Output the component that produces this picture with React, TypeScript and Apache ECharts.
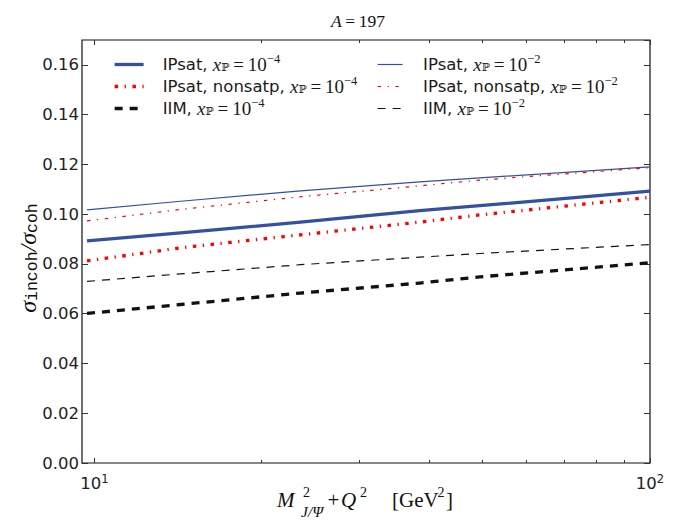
import React, { useEffect, useRef } from 'react';
import * as echarts from 'echarts';

// ---- data ----
const xValues = [9.7, 14.3, 23.5, 38.5, 49.4, 100];
const ipsat4 = [0.0893, 0.0925, 0.0968, 0.1014, 0.1034, 0.1093];
const ipsat2 = [0.1017, 0.1052, 0.1094, 0.113, 0.1146, 0.119];
const nonsat4 = [0.0812, 0.0865, 0.0917, 0.0968, 0.0997, 0.1068];
const nonsat2 = [0.0973, 0.1019, 0.107, 0.1114, 0.1137, 0.1187];
const iim4 = [0.0601, 0.0637, 0.0683, 0.0723, 0.0748, 0.0805];
const iim2 = [0.073, 0.076, 0.0797, 0.0827, 0.0842, 0.0878];

const xMajorTicks = [10, 100];
const xMinorTicks = [20, 30, 40, 50, 60, 70, 80, 90];
const yMin = 0;
const yMax = 0.17;
const yStep = 0.02;
const xMin = 9.5;
const xMax = 100;

const names = ['IPsat4', 'nonsat4', 'iim4', 'IPsat2', 'nonsat2', 'iim2'];
const legendLabels: Record<string, string> = {
  IPsat4: 'IPsat, ',
  nonsat4: 'IPsat, nonsatp, ',
  iim4: 'IIM, ',
  IPsat2: 'IPsat, ',
  nonsat2: 'IPsat, nonsatp, ',
  iim2: 'IIM, ',
};
const legendExp: Record<string, string> = {
  IPsat4: '−4', nonsat4: '−4', iim4: '−4',
  IPsat2: '−2', nonsat2: '−2', iim2: '−2',
};

const BLUE = '#3450a0';
const RED = '#ff0000';
const BLACK = '#111111';
const SERIF = '"Liberation Serif", "DejaVu Serif", serif';
const SANS = '"DejaVu Sans", sans-serif';
const THICK = 3.3;
const THIN = 1.2;
const DASHDOT = [3.5, 6.5, 1.3, 6.5];
const DASHED = [8, 7];

export default function App() {
  const ref = useRef<HTMLDivElement>(null);
  useEffect(() => {
    document.body.style.margin = '0';
    const chart = echarts.init(ref.current!, null, { renderer: 'svg' });
    const mk = (arr: number[]) => xValues.map((x, i) => [x, arr[i]]);
    const seriesDefs = [
      { name: 'IPsat4', data: ipsat4, color: BLUE, width: THICK, type: 'solid' as any },
      { name: 'nonsat4', data: nonsat4, color: RED, width: THICK, type: DASHDOT },
      { name: 'iim4', data: iim4, color: BLACK, width: THICK, type: DASHED },
      { name: 'IPsat2', data: ipsat2, color: BLUE, width: THIN, type: 'solid' as any },
      { name: 'nonsat2', data: nonsat2, color: RED, width: THIN, type: DASHDOT },
      { name: 'iim2', data: iim2, color: BLACK, width: THIN, type: DASHED },
    ];
    const legendRich = {
      pad1: { width: 14 },
      pad2: { width: 15.5 },
      t: { fontFamily: SANS, fontSize: 16.5, color: '#1a1a1a', lineHeight: 20 },
      mi: { fontFamily: SERIF, fontStyle: 'italic', fontSize: 19, color: '#1a1a1a', lineHeight: 20 },
      m: { fontFamily: SERIF, fontSize: 19, color: '#1a1a1a', lineHeight: 20 },
      sb: { fontFamily: '"DejaVu Serif", serif', fontSize: 11, color: '#1a1a1a', lineHeight: 20, padding: [6, 0, 0, 0] },
      sp: { fontFamily: SERIF, fontSize: 12.5, color: '#1a1a1a', lineHeight: 20, padding: [0, 0, 12, 0] },
    };
    const fmt = (pad: string) => (name: string) =>
      `{${pad}|}{t|${legendLabels[name]}}{mi|x}{sb|ℙ}{m|\u2009=\u200910}{sp|${legendExp[name]}}`;
    const legendData = (list: string[]) =>
      list.map((n) => {
        const s = seriesDefs.find((d) => d.name === n)!;
        return { name: n, lineStyle: { width: s.width, color: s.color, type: s.type } };
      });
    const tickColor = '#333';
    const option: any = {
      animation: false,
      grid: {
        left: 82, top: 40, width: 568, height: 423,
        show: true, borderColor: '#111', borderWidth: 1.2, backgroundColor: 'transparent',
      },
      legend: [
        {
          data: legendData(names.slice(0, 3)), orient: 'vertical', left: 113, top: 52, padding: 0,
          itemWidth: 29, itemHeight: 14, itemGap: -3,
          itemStyle: { opacity: 0 },
          formatter: fmt('pad1'), textStyle: { rich: legendRich },
        },
        {
          data: legendData(names.slice(3)), orient: 'vertical', left: 377, top: 52, padding: 0,
          itemWidth: 25, itemHeight: 14, itemGap: -3,
          itemStyle: { opacity: 0 },
          formatter: fmt('pad2'), textStyle: { rich: legendRich },
        },
      ],
      xAxis: [
        {
          type: 'log', logBase: 10, min: xMin, max: xMax, position: 'bottom',
          axisLine: { show: false }, splitLine: { show: false },
          axisTick: { inside: true, length: 5, customValues: xMajorTicks, lineStyle: { color: tickColor, width: 1 } },
          axisLabel: {
            customValues: xMajorTicks, margin: 10,
            formatter: (v: number) => `{b|10}{s|${Math.round(Math.log10(v))}}`,
            rich: {
              b: { fontFamily: SANS, fontSize: 16.5, color: '#222', lineHeight: 20 },
              s: { fontFamily: SANS, fontSize: 11.5, color: '#222', lineHeight: 20, padding: [0, 0, 8, 0] },
            },
          },
        },
        {
          type: 'log', logBase: 10, min: xMin, max: xMax, position: 'bottom',
          axisLine: { show: false }, splitLine: { show: false },
          axisTick: { inside: true, length: 3, customValues: xMinorTicks, lineStyle: { color: tickColor, width: 1 } },
          axisLabel: { show: false },
        },
        {
          type: 'log', logBase: 10, min: xMin, max: xMax, position: 'top',
          axisLine: { show: false }, splitLine: { show: false },
          axisTick: { inside: true, length: 5, customValues: xMajorTicks, lineStyle: { color: tickColor, width: 1 } },
          axisLabel: { show: false },
        },
        {
          type: 'log', logBase: 10, min: xMin, max: xMax, position: 'top',
          axisLine: { show: false }, splitLine: { show: false },
          axisTick: { inside: true, length: 3, customValues: xMinorTicks, lineStyle: { color: tickColor, width: 1 } },
          axisLabel: { show: false },
        },
      ],
      yAxis: [
        {
          type: 'value', min: yMin, max: yMax, interval: yStep, position: 'left',
          axisLine: { show: false }, splitLine: { show: false },
          axisTick: { inside: true, length: 6, lineStyle: { color: tickColor, width: 1 } },
          axisLabel: {
            margin: 3, showMaxLabel: false, fontFamily: SANS, fontSize: 16.5, color: '#222',
            formatter: (v: number) => v.toFixed(2),
          },
        },
        {
          type: 'value', min: yMin, max: yMax, interval: yStep, position: 'right',
          axisLine: { show: false }, splitLine: { show: false },
          axisTick: { inside: true, length: 6, lineStyle: { color: tickColor, width: 1 } },
          axisLabel: { show: false },
        },
      ],
      series: seriesDefs.map((s) => ({
        name: s.name, type: 'line', xAxisIndex: 0, yAxisIndex: 0,
        data: mk(s.data), symbol: 'none', showSymbol: false, smooth: false,
        lineStyle: { color: s.color, width: s.width, type: s.type, cap: 'butt', join: 'round' },
        itemStyle: { color: s.color },
      })),
      graphic: [
        {
          type: 'text', x: 358, y: 21,
          style: {
            text: '{mi|A}{m|\u2009=\u2009197}', align: 'center', verticalAlign: 'middle',
            rich: {
              mi: { fontFamily: SERIF, fontStyle: 'italic', fontSize: 17.5, fill: '#111' },
              m: { fontFamily: SERIF, fontSize: 17.5, fill: '#111' },
            },
          },
        },
        {
          type: 'text', x: 28, y: 258, rotation: Math.PI / 2,
          style: {
            text: '{s|σ}{sb|incoh}{s|/σ}{sb|coh}', align: 'center', verticalAlign: 'middle',
            rich: {
              s: { fontFamily: SERIF, fontStyle: 'italic', fontSize: 24, fill: '#111', lineHeight: 28 },
              sb: { fontFamily: '"Liberation Mono", monospace', fontSize: 16.5, fill: '#111', lineHeight: 28, padding: [9, 0, 0, 0] },
            },
          },
        },
        {
          type: 'text', x: 277, y: 500,
          style: { text: 'M', fontFamily: SERIF, fontStyle: 'italic', fontSize: 21, fill: '#111', align: 'left', verticalAlign: 'middle' },
        },
        {
          type: 'text', x: 303, y: 492,
          style: { text: '2', fontFamily: SERIF, fontSize: 14, fill: '#111', align: 'left', verticalAlign: 'middle' },
        },
        {
          type: 'text', x: 301, y: 511,
          style: { text: 'J/Ψ', fontFamily: SERIF, fontStyle: 'italic', fontSize: 15.5, fill: '#111', align: 'left', verticalAlign: 'middle' },
        },
        {
          type: 'text', x: 333.5, y: 500,
          style: { text: '+', fontFamily: SERIF, fontSize: 21, fill: '#111', align: 'center', verticalAlign: 'middle' },
        },
        {
          type: 'text', x: 341, y: 500,
          style: { text: 'Q', fontFamily: SERIF, fontStyle: 'italic', fontSize: 21, fill: '#111', align: 'left', verticalAlign: 'middle' },
        },
        {
          type: 'text', x: 360, y: 492,
          style: { text: '2', fontFamily: SERIF, fontSize: 14, fill: '#111', align: 'left', verticalAlign: 'middle' },
        },
        {
          type: 'text', x: 392, y: 500,
          style: { text: '[GeV', fontFamily: SERIF, fontSize: 21, fill: '#111', align: 'left', verticalAlign: 'middle' },
        },
        {
          type: 'text', x: 437.5, y: 492,
          style: { text: '2', fontFamily: SERIF, fontSize: 14, fill: '#111', align: 'left', verticalAlign: 'middle' },
        },
        {
          type: 'text', x: 446, y: 500,
          style: { text: ']', fontFamily: SERIF, fontSize: 21, fill: '#111', align: 'left', verticalAlign: 'middle' },
        },
      ],
    };
    chart.setOption(option);
    return () => chart.dispose();
  }, []);
  return <div ref={ref} style={{ width: 676, height: 523 }} />;
}
